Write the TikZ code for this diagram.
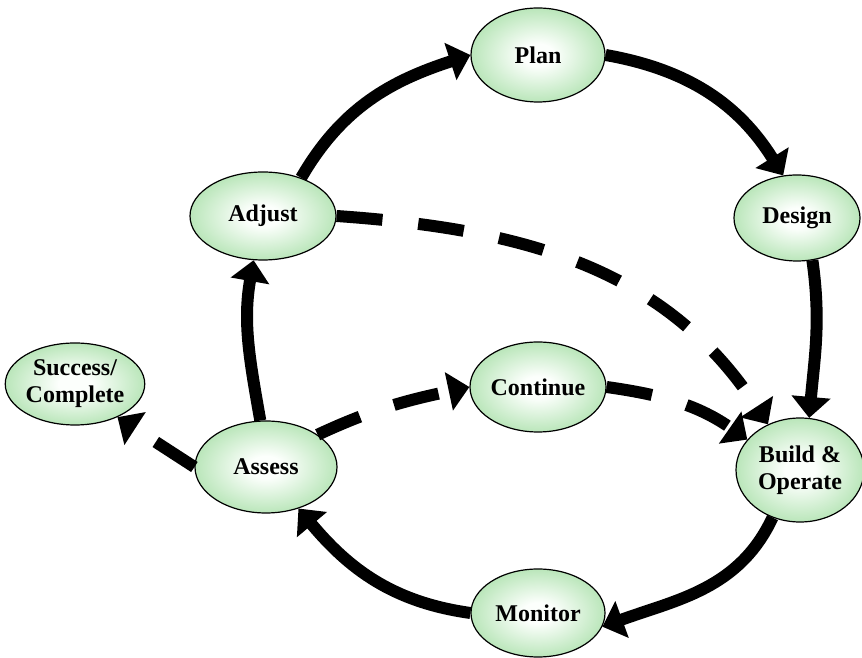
\documentclass[tikz,border=0pt]{standalone}
\usepackage{fontspec}
\setmainfont{Liberation Serif}
\usetikzlibrary{shapes.geometric,arrows.meta}

\definecolor{stagerim}{RGB}{186,230,186}
\definecolor{stagecore}{RGB}{252,255,252}

% white heart fading to a light green rim
\pgfdeclareradialshading{stagefill}{\pgfpoint{0bp}{0bp}}{%
  color(0bp)=(stagecore); color(6bp)=(stagecore);
  color(25bp)=(stagerim); color(50bp)=(stagerim)}

\tikzset{
  stage/.style={ellipse, draw=black, line width=1.2pt, inner sep=0pt,
    shading=stagefill, align=center,
    font=\bfseries\fontsize{24}{27}\selectfont},
  flow/.style={line width=12pt, line cap=butt,
    -{Triangle[width=38pt,length=21pt]}},
  dashflow/.style={flow, dash pattern=on 46pt off 36pt}
}

\begin{document}
\begin{tikzpicture}[x=1pt,y=1pt]
  \useasboundingbox (0,0) rectangle (862,658);

  % stages of the cycle
  \node[stage, minimum width=134pt, minimum height=94pt] (plan)     at (538,603) {Plan};
  \node[stage, minimum width=126pt, minimum height=86pt] (design)   at (797,440) {Design};
  \node[stage, minimum width=146pt, minimum height=88pt] (adjust)   at (263,442) {Adjust};
  \node[stage, minimum width=136pt, minimum height=82pt] (success)  at (75,274)  {Success/\\Complete};
  \node[stage, minimum width=136pt, minimum height=90pt] (continue) at (538,271) {Continue};
  \node[stage, minimum width=142pt, minimum height=92pt] (assess)   at (266,191) {Assess};
  \node[stage, minimum width=128pt, minimum height=104pt] (build)   at (800,188) {Build \&\\Operate};
  \node[stage, minimum width=134pt, minimum height=88pt] (monitor)  at (538,45)  {Monitor};

  % main cycle
  \draw[flow] (adjust.45)   to[out=60,in=198]   (plan.west);
  \draw[flow] (plan.east)   to[out=-10,in=122]  (design.108);
  \draw[flow] (design.-70)  to[out=-82,in=85]   (build.80);
  \draw[flow] (build.-120)  to[out=-115,in=20]  (monitor.-12);
  \draw[flow] (monitor.west) to[out=172,in=-50] (assess.-52);
  \draw[flow] (assess.97)   to[out=100,in=-100] (adjust.-102);

  % alternative routes
  \draw[dashflow] (adjust.east)   to[out=-4,in=123]  (build.125);
  \draw[dashflow] (continue.east) to[out=-8,in=145]  (build.150);
  \draw[dashflow] (assess.32)     to[out=25,in=192]  (continue.west);
  \draw[dashflow] (assess.west)   --                 (success.-38);
\end{tikzpicture}
\end{document}
